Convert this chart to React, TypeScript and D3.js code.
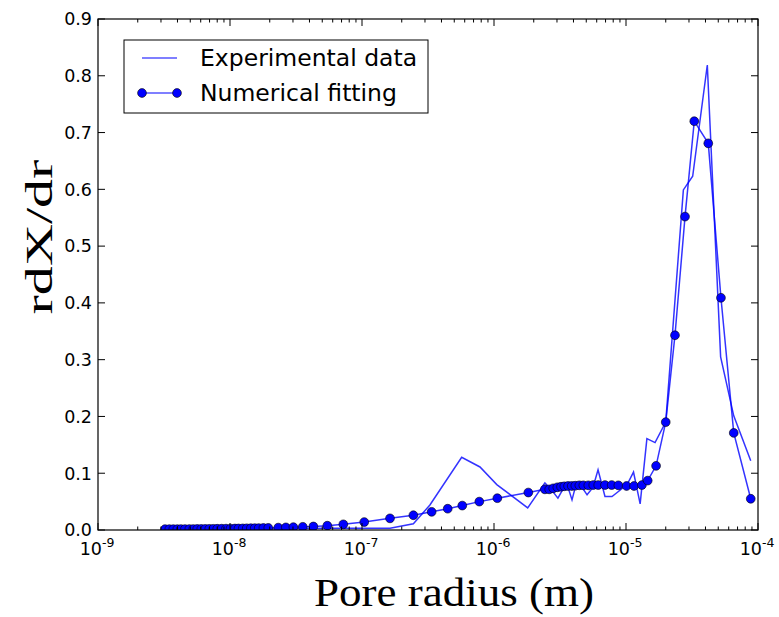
import React from "react";
import * as d3 from "d3";

const expRadius = [
  3.22e-9, 1.0e-8, 3.0e-8, 5.5e-8, 1.02e-7, 1.63e-7, 2.45e-7, 3.27e-7, 5.69e-7, 7.83e-7,
  1.05e-6, 1.80e-6, 2.43e-6, 2.70e-6, 3.05e-6, 3.33e-6, 3.64e-6, 3.90e-6, 4.18e-6, 4.56e-6,
  5.07e-6, 5.62e-6, 6.14e-6, 6.93e-6, 7.83e-6, 9.01e-6, 1.02e-5, 1.14e-5, 1.28e-5, 1.44e-5,
  1.66e-5, 2.00e-5, 2.72e-5, 3.20e-5, 4.13e-5, 5.21e-5, 6.55e-5, 8.81e-5,
];
const expValue = [
  0.0, 0.001, 0.002, 0.003, 0.003, 0.003, 0.011, 0.044, 0.128, 0.111,
  0.080, 0.039, 0.083, 0.072, 0.056, 0.072, 0.075, 0.053, 0.080, 0.078,
  0.062, 0.075, 0.106, 0.059, 0.059, 0.070, 0.080, 0.102, 0.046, 0.161,
  0.154, 0.190, 0.599, 0.623, 0.819, 0.305, 0.201, 0.122,
];

const fitRadius = [
  3.22e-9, 3.47e-9, 3.72e-9, 3.99e-9, 4.25e-9, 4.56e-9, 4.92e-9, 5.27e-9, 5.65e-9, 6.06e-9,
  6.50e-9, 6.97e-9, 7.47e-9, 8.01e-9, 8.65e-9, 9.33e-9, 1.01e-8, 1.09e-8, 1.16e-8, 1.25e-8,
  1.34e-8, 1.44e-8, 1.54e-8, 1.65e-8, 1.79e-8, 1.95e-8, 2.32e-8, 2.65e-8, 3.02e-8, 3.56e-8,
  4.28e-8, 5.46e-8, 7.22e-8, 1.04e-7, 1.63e-7, 2.45e-7, 3.37e-7, 4.46e-7, 5.75e-7, 7.74e-7,
  1.06e-6, 1.82e-6, 2.43e-6, 2.62e-6, 2.81e-6, 3.02e-6, 3.22e-6, 3.41e-6, 3.64e-6, 3.88e-6,
  4.13e-6, 4.43e-6, 4.75e-6, 5.18e-6, 5.65e-6, 6.16e-6, 6.93e-6, 7.79e-6, 8.75e-6, 1.01e-5,
  1.15e-5, 1.32e-5, 1.46e-5, 1.69e-5, 2.00e-5, 2.35e-5, 2.80e-5, 3.29e-5, 4.20e-5, 5.24e-5,
  6.55e-5, 8.81e-5,
];
const fitValue = [
  0.0015, 0.0015, 0.0015, 0.0015, 0.0016, 0.0016, 0.0017, 0.0017, 0.0018, 0.0018,
  0.0019, 0.002, 0.0021, 0.0022, 0.0023, 0.0024, 0.0025, 0.0026, 0.0027, 0.0028,
  0.003, 0.0031, 0.0032, 0.0033, 0.0035, 0.0037, 0.0042, 0.0046, 0.005, 0.0056,
  0.0062, 0.0076, 0.010, 0.014, 0.0205, 0.026, 0.032, 0.0375, 0.043, 0.050,
  0.056, 0.066, 0.0716, 0.0716, 0.0734, 0.0752, 0.0762, 0.077, 0.0775, 0.0775,
  0.078, 0.0787, 0.0787, 0.0787, 0.0792, 0.0792, 0.0792, 0.0792, 0.0787, 0.0775,
  0.0775, 0.0792, 0.087, 0.113, 0.19, 0.343, 0.552, 0.72, 0.681, 0.409,
  0.171, 0.055,
];

const yTicks = [0, 0.1, 0.2, 0.3, 0.4, 0.5, 0.6, 0.7, 0.8, 0.9];
const xDecades = [-9, -8, -7, -6, -5, -4];
const legendLabels = ["Experimental data", "Numerical fitting"];

const W = 779;
const H = 617;
const M = { left: 98, right: 758, top: 19, bottom: 530 };
const BLUE = "#0000ff";

export default function App() {
  const x = d3.scaleLog().domain([1e-9, 1e-4]).range([M.left, M.right]);
  const y = d3.scaleLinear().domain([0, 0.9]).range([M.bottom, M.top]);

  const expData = expRadius.map((r, i) => [r, expValue[i]] as [number, number]);
  const fitData = fitRadius.map((r, i) => [r, fitValue[i]] as [number, number]);
  const line = d3
    .line<[number, number]>()
    .x((d) => x(d[0]))
    .y((d) => y(d[1]));

  const minorTicks: number[] = [];
  for (let e = -9; e < -4; e++) {
    for (let k = 2; k <= 9; k++) minorTicks.push(k * Math.pow(10, e));
  }

  const majorLen = 7;
  const minorLen = 3.5;

  return (
    <svg width={W} height={H} style={{ position: "absolute", left: 0, top: 0 }}>
      <rect x={0} y={0} width={W} height={H} fill="#fff" />
      <defs>
        <clipPath id="plotClip">
          <rect x={M.left} y={M.top} width={M.right - M.left} height={M.bottom - M.top} />
        </clipPath>
      </defs>

      <g clipPath="url(#plotClip)">
        <path d={line(expData) || ""} fill="none" stroke={BLUE} strokeWidth={1.5} strokeOpacity={0.8} />
        <path d={line(fitData) || ""} fill="none" stroke={BLUE} strokeWidth={1.5} strokeOpacity={0.8} />
        {fitData.map((d, i) => (
          <circle key={i} cx={x(d[0])} cy={y(d[1])} r={4.4} fill={BLUE} stroke="#000" strokeWidth={0.6} />
        ))}
      </g>

      {/* ticks */}
      <g stroke="#000" strokeWidth={1}>
        {yTicks.map((t) => (
          <g key={"y" + t}>
            <line x1={M.left} x2={M.left + majorLen} y1={y(t)} y2={y(t)} />
            <line x1={M.right} x2={M.right - majorLen} y1={y(t)} y2={y(t)} />
          </g>
        ))}
        {xDecades.map((e) => (
          <g key={"x" + e}>
            <line x1={x(Math.pow(10, e))} x2={x(Math.pow(10, e))} y1={M.bottom} y2={M.bottom - majorLen} />
            <line x1={x(Math.pow(10, e))} x2={x(Math.pow(10, e))} y1={M.top} y2={M.top + majorLen} />
          </g>
        ))}
        {minorTicks.map((t, i) => (
          <g key={"m" + i}>
            <line x1={x(t)} x2={x(t)} y1={M.bottom} y2={M.bottom - minorLen} />
            <line x1={x(t)} x2={x(t)} y1={M.top} y2={M.top + minorLen} />
          </g>
        ))}
      </g>

      <rect
        x={M.left}
        y={M.top}
        width={M.right - M.left}
        height={M.bottom - M.top}
        fill="none"
        stroke="#000"
        strokeWidth={1.2}
      />

      {/* tick labels */}
      <g fontFamily="DejaVu Sans" fontSize={17.5} fill="#000">
        {yTicks.map((t) => (
          <text key={"yl" + t} x={M.left - 6} y={y(t)} dy="0.36em" textAnchor="end">
            {d3.format(".1f")(t)}
          </text>
        ))}
        {xDecades.map((e) => (
          <text key={"xl" + e} x={x(Math.pow(10, e)) - 1} y={M.bottom + 25} textAnchor="middle">
            <tspan>10</tspan>
            <tspan fontSize={12.5} dy={-8}>{e}</tspan>
          </text>
        ))}
      </g>

      {/* axis labels */}
      <text
        x={454}
        y={606}
        textAnchor="middle"
        fontFamily="Liberation Serif"
        fontSize={41}
        textLength={280}
        lengthAdjust="spacingAndGlyphs"
        fill="#000"
      >
        Pore radius (m)
      </text>
      <text
        transform={`translate(52, 237) rotate(-90)`}
        textAnchor="middle"
        fontFamily="Liberation Serif"
        fontSize={37}
        textLength={155}
        lengthAdjust="spacingAndGlyphs"
        fill="#000"
      >
        rdX/dr
      </text>

      {/* legend */}
      <g>
        <rect x={124} y={40} width={304} height={73} fill="#fff" stroke="#000" strokeWidth={1} />
        <line x1={142} x2={177} y1={58} y2={58} stroke={BLUE} strokeWidth={1.2} />
        <line x1={142} x2={177} y1={93} y2={93} stroke={BLUE} strokeWidth={1.2} />
        <circle cx={142} cy={93} r={4.4} fill={BLUE} stroke="#000" strokeWidth={0.6} />
        <circle cx={177} cy={93} r={4.4} fill={BLUE} stroke="#000" strokeWidth={0.6} />
        <g fontFamily="DejaVu Sans" fontSize={23.5} fill="#000">
          <text x={200} y={58} dy="0.35em">{legendLabels[0]}</text>
          <text x={200} y={93} dy="0.35em">{legendLabels[1]}</text>
        </g>
      </g>
    </svg>
  );
}
